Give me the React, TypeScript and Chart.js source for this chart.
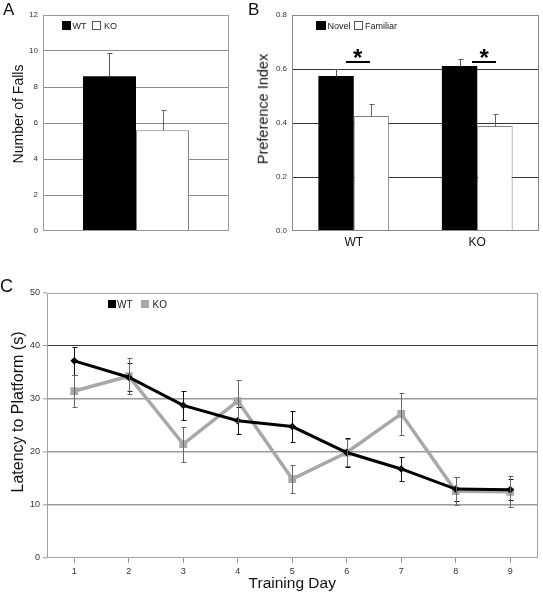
import React, { useEffect, useRef } from 'react';
import { Chart, registerables } from 'chart.js';

Chart.register(...registerables);

const FONT = "'Liberation Sans', Arial, Helvetica, sans-serif";
const NARROW = "'Liberation Sans Narrow', 'Liberation Sans', Arial, sans-serif";

// ---------- Panel A: Number of Falls ----------
const fallsCategories = [''];
const fallsWT = [8.6];
const fallsWTErr = [1.3];
const fallsKO = [5.6];
const fallsKOErr = [1.1];

// ---------- Panel B: Preference Index ----------
const prefGroups = ['WT', 'KO'];
const novelMean = [0.574, 0.611];
const novelErr = [0.026, 0.026];
const familiarMean = [0.426, 0.389];
const familiarErr = [0.043, 0.043];
const sigGroups = [0, 1];
const sigLineValue = 0.626;
const sigStarValue = 0.656;

// ---------- Panel C: Latency to Platform ----------
const trainingDays = ['1', '2', '3', '4', '5', '6', '7', '8', '9'];
const wtLatency = [37.2, 34.1, 28.8, 25.9, 24.8, 19.9, 16.8, 13.0, 12.9];
const wtLatencyErr = [2.7, 2.6, 2.8, 2.5, 3.0, 2.8, 2.2, 2.3, 2.0];
const koLatency = [31.5, 34.3, 21.5, 29.6, 14.9, 19.9, 27.2, 12.6, 12.5];
const koLatencyErr = [3.0, 3.4, 3.3, 4.0, 2.6, 2.6, 3.9, 2.6, 2.9];

const framePlugin = {
  id: 'frame',
  afterDatasetsDraw(chart: any, _args: any, opts: any) {
    const { left, top, right, bottom } = chart.chartArea;
    const ctx = chart.ctx;
    ctx.save();
    ctx.strokeStyle = opts.color || '#999';
    ctx.lineWidth = 1;
    const l = Math.round(left) + 0.5;
    const t = Math.round(top) + 0.5;
    const r = Math.round(right) - 0.5;
    const b = Math.round(bottom) - 0.5;
    ctx.strokeRect(l, t, r - l, b - t);
    ctx.restore();
  },
};

const errorBarsPlugin = {
  id: 'errorBars',
  afterDatasetsDraw(chart: any) {
    const ctx = chart.ctx;
    const ys = chart.scales.y;
    chart.data.datasets.forEach((ds: any, i: number) => {
      const meta = chart.getDatasetMeta(i);
      if (!ds.errors || meta.hidden) return;
      ctx.save();
      ctx.strokeStyle = ds.errorColor || '#000';
      ctx.lineWidth = 1;
      const cap = ds.errorCap ?? 2.5;
      meta.data.forEach((el: any, j: number) => {
        const v = ds.data[j];
        const e = ds.errors[j];
        const x = Math.round(el.x) + 0.5;
        const top = Math.round(ys.getPixelForValue(v + e)) + 0.5;
        const bot = Math.round(ys.getPixelForValue(ds.errorBoth ? v - e : v)) + 0.5;
        ctx.beginPath();
        ctx.moveTo(x, top);
        ctx.lineTo(x, bot);
        ctx.moveTo(x - cap, top);
        ctx.lineTo(x + cap + 1, top);
        if (ds.errorBoth) {
          ctx.moveTo(x - cap, bot);
          ctx.lineTo(x + cap + 1, bot);
        }
        ctx.stroke();
      });
      ctx.restore();
    });
  },
};

const sigPlugin = {
  id: 'sig',
  afterDatasetsDraw(chart: any, _args: any, opts: any) {
    if (!opts || !opts.groups) return;
    const ctx = chart.ctx;
    const xs = chart.scales.x;
    const ys = chart.scales.y;
    ctx.save();
    opts.groups.forEach((g: number, k: number) => {
      const cx = xs.getPixelForValue(g) + (opts.shift[k] || 0);
      const ly = Math.round(ys.getPixelForValue(opts.lineValue));
      ctx.fillStyle = '#000';
      ctx.fillRect(Math.round(cx - opts.halfWidth), ly - 1, opts.halfWidth * 2, 2);
      ctx.font = 'bold 24px ' + FONT;
      ctx.textAlign = 'center';
      ctx.textBaseline = 'alphabetic';
      const m = ctx.measureText('*');
      const cy = ys.getPixelForValue(opts.starValue);
      const y = cy + (m.actualBoundingBoxAscent - m.actualBoundingBoxDescent) / 2;
      ctx.fillText('*', cx, y);
    });
    ctx.restore();
  },
};

function ChartCanvas({ make, left, top, width, height }: any) {
  const ref = useRef<HTMLCanvasElement>(null);
  useEffect(() => {
    const chart = new Chart(ref.current as HTMLCanvasElement, make());
    return () => chart.destroy();
  }, []);
  return (
    <canvas
      ref={ref}
      width={width}
      height={height}
      style={{ position: 'absolute', left, top, width, height }}
    />
  );
}

const makeA = (): any => ({
  type: 'bar',
  data: {
    labels: fallsCategories,
    datasets: [
      {
        label: 'WT',
        data: fallsWT,
        errors: fallsWTErr,
        errorColor: '#555',
        errorCap: 2,
        backgroundColor: '#000',
        borderWidth: 0,
      },
      {
        label: 'KO',
        data: fallsKO,
        errors: fallsKOErr,
        errorColor: '#666',
        errorCap: 2,
        backgroundColor: '#fff',
        borderColor: '#808080',
        borderWidth: 1,
      },
    ],
  },
  options: {
    responsive: false,
    animation: false,
    events: [],
    layout: { padding: { left: 0, top: 15, right: 21, bottom: 19 } },
    datasets: { bar: { categoryPercentage: 0.57, barPercentage: 1 } },
    plugins: { legend: { display: false }, tooltip: { enabled: false }, frame: { color: '#999' } },
    scales: {
      x: { display: false },
      y: {
        min: 0,
        max: 12,
        afterFit: (s: any) => {
          s.width = 43;
        },
        ticks: { stepSize: 2, font: { family: FONT, size: 8 }, color: '#333', padding: 5 },
        grid: {
          drawTicks: false,
          color: (c: any) => (c.tick && c.tick.value > 0 && c.tick.value < 12 ? '#8a8a8a' : 'rgba(0,0,0,0)'),
        },
        border: { display: false },
      },
    },
  },
  plugins: [framePlugin, errorBarsPlugin],
});

const makeB = (): any => ({
  type: 'bar',
  data: {
    labels: prefGroups,
    datasets: [
      {
        label: 'Novel',
        data: novelMean,
        errors: novelErr,
        errorColor: '#555',
        errorCap: 2,
        backgroundColor: '#000',
        borderWidth: 0,
      },
      {
        label: 'Familiar',
        data: familiarMean,
        errors: familiarErr,
        errorColor: '#666',
        errorCap: 2,
        backgroundColor: '#fff',
        borderColor: '#808080',
        borderWidth: 1,
      },
    ],
  },
  options: {
    responsive: false,
    animation: false,
    events: [],
    layout: { padding: { left: 0, top: 15, right: 4, bottom: 9 } },
    datasets: { bar: { categoryPercentage: 0.573, barPercentage: 1 } },
    plugins: {
      legend: { display: false },
      tooltip: { enabled: false },
      frame: { color: '#888' },
      sig: {
        groups: sigGroups,
        shift: [4, 7],
        halfWidth: 12,
        lineValue: sigLineValue,
        starValue: sigStarValue,
      },
    },
    scales: {
      x: {
        afterFit: (s: any) => {
          s.height = 20;
        },
        ticks: { font: { family: FONT, size: 12 }, color: '#111', padding: 4 },
        grid: { display: false, drawTicks: false },
        border: { display: false },
      },
      y: {
        min: 0,
        max: 0.8,
        afterFit: (s: any) => {
          s.width = 47;
        },
        ticks: {
          stepSize: 0.2,
          font: { family: FONT, size: 8 },
          color: '#333',
          padding: 5,
          callback: (v: any) => Number(v).toFixed(1),
        },
        grid: {
          drawTicks: false,
          color: (c: any) =>
            c.tick && c.tick.value > 0.01 && c.tick.value < 0.79 ? '#333' : 'rgba(0,0,0,0)',
        },
        border: { display: false },
      },
    },
  },
  plugins: [framePlugin, errorBarsPlugin, sigPlugin],
});

const makeC = (): any => ({
  type: 'line',
  data: {
    labels: trainingDays,
    datasets: [
      {
        label: 'WT',
        data: wtLatency,
        errors: wtLatencyErr,
        errorBoth: true,
        errorColor: '#111',
        errorCap: 2,
        borderColor: '#000',
        backgroundColor: '#000',
        borderWidth: 3,
        pointStyle: 'rectRot',
        pointRadius: 3.8,
        pointBorderWidth: 0,
        pointBackgroundColor: '#000',
        tension: 0,
      },
      {
        label: 'KO',
        data: koLatency,
        errors: koLatencyErr,
        errorBoth: true,
        errorColor: '#666',
        errorCap: 2,
        borderColor: '#a8a8a8',
        backgroundColor: '#a8a8a8',
        borderWidth: 3.5,
        pointStyle: 'rect',
        pointRadius: 5.5,
        pointBorderWidth: 0,
        pointBackgroundColor: '#a8a8a8',
        tension: 0,
      },
    ],
  },
  options: {
    responsive: false,
    animation: false,
    events: [],
    layout: { padding: { left: 0, top: 23, right: 1, bottom: 0 } },
    plugins: { legend: { display: false }, tooltip: { enabled: false }, frame: { color: '#a0a0a0' } },
    scales: {
      x: {
        offset: true,
        afterFit: (s: any) => {
          s.height = 43;
        },
        ticks: { font: { family: NARROW, size: 9 }, color: '#333', padding: 3 },
        grid: {
          drawOnChartArea: false,
          drawTicks: true,
          tickLength: 5,
          tickColor: '#999',
          color: '#999',
          offset: false,
        },
        border: { display: false },
        title: {
          display: true,
          text: 'Training Day',
          font: { family: FONT, size: 15.5 },
          color: '#111',
          padding: { top: 0, bottom: 8 },
        },
      },
      y: {
        min: 0,
        max: 50,
        afterFit: (s: any) => {
          s.width = 47;
        },
        ticks: { stepSize: 10, font: { family: NARROW, size: 9 }, color: '#333', padding: 3 },
        grid: {
          drawTicks: true,
          tickLength: 4,
          tickColor: '#999',
          tickWidth: 1,
          color: (c: any) => {
            const v = c.tick ? c.tick.value : 0;
            if (v === 40) return '#3a3a3a';
            if (v > 0 && v < 50) return '#9a9a9a';
            return 'rgba(0,0,0,0)';
          },
          lineWidth: (c: any) => (c.tick && c.tick.value === 40 ? 1 : 1.6),
        },
        border: { display: false },
      },
    },
  },
  plugins: [framePlugin, errorBarsPlugin],
});

const Txt = ({ x, y, size, children, color = '#222' }: any) => (
  <div
    style={{
      position: 'absolute',
      left: x,
      top: y,
      fontSize: size,
      lineHeight: 1,
      fontFamily: FONT,
      color,
      whiteSpace: 'nowrap',
    }}
  >
    {children}
  </div>
);

const VTxt = ({ cx, cy, size, children }: any) => (
  <div
    style={{
      position: 'absolute',
      left: cx,
      top: cy,
      transform: 'translate(-50%, -50%) rotate(-90deg)',
      fontSize: size,
      lineHeight: 1,
      fontFamily: FONT,
      color: '#111',
      whiteSpace: 'nowrap',
    }}
  >
    {children}
  </div>
);

const Box = ({ x, y, w, h, fill, border }: any) => (
  <div
    style={{
      position: 'absolute',
      left: x,
      top: y,
      width: w,
      height: h,
      background: fill,
      border: border ? `1px solid ${border}` : 'none',
      boxSizing: 'border-box',
    }}
  />
);

export default function App() {
  return (
    <div
      style={{
        position: 'absolute',
        left: 0,
        top: 0,
        width: 543,
        height: 601,
        background: '#fff',
        overflow: 'hidden',
      }}
    >
      <ChartCanvas make={makeA} left={0} top={0} width={250} height={250} />
      <ChartCanvas make={makeB} left={245} top={0} width={298} height={260} />
      <ChartCanvas make={makeC} left={0} top={270} width={543} height={331} />

      {/* panel letters */}
      <Txt x={3} y={1} size={17} color="#111">A</Txt>
      <Txt x={248} y={1} size={17} color="#111">B</Txt>
      <Txt x={0} y={276.5} size={18} color="#111">C</Txt>

      {/* y-axis titles */}
      <VTxt cx={18.2} cy={114} size={14}>Number of Falls</VTxt>
      <VTxt cx={263.4} cy={109} size={14.5}>Preference Index</VTxt>
      <VTxt cx={17.6} cy={412} size={16}>Latency to Platform (s)</VTxt>

      {/* legend A */}
      <Box x={62} y={21} w={9} h={9} fill="#000" />
      <Txt x={72.5} y={21.5} size={9}>WT</Txt>
      <Box x={92} y={21} w={9} h={9} fill="#fff" border="#555" />
      <Txt x={104} y={21.5} size={9}>KO</Txt>

      {/* legend B */}
      <Box x={316} y={21} w={10} h={9} fill="#000" />
      <Txt x={327.5} y={22} size={9}>Novel</Txt>
      <Box x={354} y={21} w={9} h={9} fill="#fff" border="#555" />
      <Txt x={365} y={22} size={9}>Familiar</Txt>

      {/* legend C */}
      <Box x={108} y={300} w={8} h={8} fill="#000" />
      <Txt x={117} y={299.5} size={10}>WT</Txt>
      <Box x={141} y={300} w={8} h={8} fill="#a8a8a8" />
      <Txt x={152.5} y={299.5} size={10}>KO</Txt>
    </div>
  );
}
